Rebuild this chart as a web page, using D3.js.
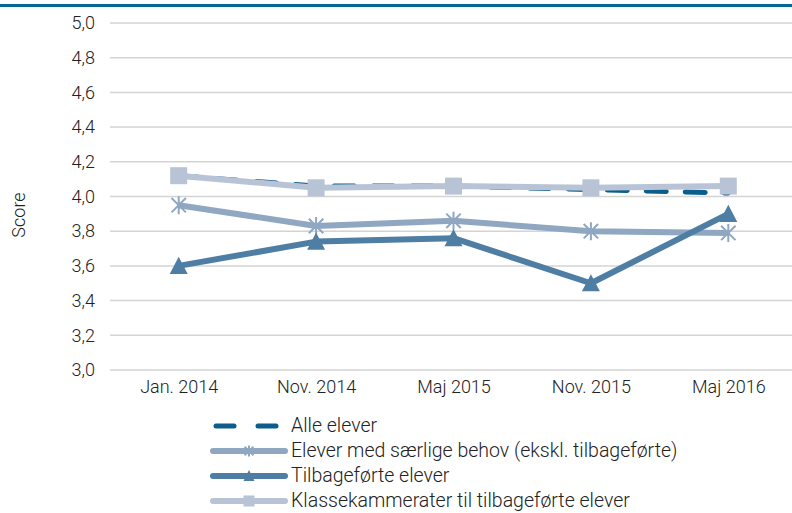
<!DOCTYPE html>
<html>
<head>
<meta charset="utf-8">
<script src="https://cdn.jsdelivr.net/npm/d3@7"></script>
<style>
  body { margin: 0; background: #fff; }
  text { font-family: Roboto, sans-serif; font-weight: 300; fill: #222; }
</style>
</head>
<body>
<div id="chart"></div>
<script>
const periods = ["Jan. 2014", "Nov. 2014", "Maj 2015", "Nov. 2015", "Maj 2016"];
const alleElever = [4.12, 4.06, 4.06, 4.04, 4.02];
const saerligeBehov = [3.95, 3.83, 3.86, 3.80, 3.79];
const tilbageforte = [3.60, 3.74, 3.76, 3.50, 3.90];
const klassekammerater = [4.12, 4.05, 4.06, 4.05, 4.06];
const yTicks = [3.0, 3.2, 3.4, 3.6, 3.8, 4.0, 4.2, 4.4, 4.6, 4.8, 5.0];

const series = [
  {name: "Alle elever", values: alleElever, color: "#0b5d8c", width: 5, dash: "20 19", marker: "none"},
  {name: "Elever med særlige behov (ekskl. tilbageførte)", values: saerligeBehov, color: "#8fa7c0", width: 6, marker: "asterisk"},
  {name: "Tilbageførte elever", values: tilbageforte, color: "#4f7ea4", width: 6, marker: "triangle"},
  {name: "Klassekammerater til tilbageførte elever", values: klassekammerater, color: "#b8c4d6", width: 6, marker: "square"}
];

const W = 792, H = 513;
const svg = d3.select("#chart").append("svg").attr("width", W).attr("height", H);

// top rule
svg.append("rect").attr("x", 0).attr("y", 4).attr("width", W).attr("height", 3).attr("fill", "#0a6693");

const x = d3.scalePoint().domain(periods).range([110, 797]).padding(0.5);
const y = d3.scaleLinear().domain([3, 5]).range([370, 23]);

// gridlines
svg.append("g")
  .selectAll("line")
  .data(yTicks)
  .join("line")
  .attr("x1", 110).attr("x2", W)
  .attr("y1", d => y(d)).attr("y2", d => y(d))
  .attr("stroke", "#d4d4d4").attr("stroke-width", 1.5);

// y axis labels
const yAxis = svg.append("g")
  .attr("transform", "translate(101,0)")
  .call(d3.axisLeft(y).tickValues(yTicks).tickSize(0).tickPadding(6)
    .tickFormat(d => d3.format(".1f")(d).replace(".", ",")));
yAxis.select(".domain").remove();
yAxis.selectAll("text").style("font-size", "18px").style("font-family", "Roboto, sans-serif").attr("fill", "#222");

// x axis labels
const xAxis = svg.append("g")
  .attr("transform", "translate(0,370)")
  .call(d3.axisBottom(x).tickSize(0).tickPadding(10));
xAxis.select(".domain").remove();
xAxis.selectAll("text").style("font-size", "18px").style("font-family", "Roboto, sans-serif").attr("fill", "#222");

svg.append("text")
  .attr("transform", "translate(25,215) rotate(-90)")
  .attr("text-anchor", "middle")
  .style("font-size", "18px")
  .text("Score");

function drawMarker(g, type, cx, cy, color, s) {
  if (type === "square") {
    g.append("rect").attr("x", cx - s / 2).attr("y", cy - s / 2).attr("width", s).attr("height", s).attr("fill", color);
  } else if (type === "triangle") {
    const h = s * 0.9;
    g.append("path")
      .attr("d", `M${cx},${cy - h / 2 - 1}L${cx + s / 2},${cy + h / 2}L${cx - s / 2},${cy + h / 2}Z`)
      .attr("fill", color);
  } else if (type === "asterisk") {
    const r = s / 2;
    const d = r * 0.8;
    g.append("path")
      .attr("d", `M${cx},${cy - r}V${cy + r}M${cx - d},${cy - d}L${cx + d},${cy + d}M${cx - d},${cy + d}L${cx + d},${cy - d}`)
      .attr("stroke", color).attr("stroke-width", 2).attr("fill", "none");
  }
}

const line = d3.line().x((d, i) => x(periods[i])).y(d => y(d));

const sizes = {square: 17, triangle: 18, asterisk: 18};
series.forEach(s => {
  const g = svg.append("g");
  g.append("path")
    .datum(s.values)
    .attr("d", line)
    .attr("fill", "none")
    .attr("stroke", s.color)
    .attr("stroke-width", s.width)
    .attr("stroke-linecap", s.dash ? "round" : "butt")
    .attr("stroke-linejoin", "round")
    .attr("stroke-dasharray", s.dash || null);
  if (s.marker !== "none") {
    s.values.forEach((v, i) => drawMarker(g, s.marker, x(periods[i]), y(v), s.color, sizes[s.marker]));
  }
});

// legend
const legend = svg.append("g");
series.forEach((s, i) => {
  const ly = 426 + i * 25;
  const g = legend.append("g");
  if (s.dash) {
    g.append("line").attr("x1", 216).attr("x2", 234).attr("y1", ly).attr("y2", ly)
      .attr("stroke", s.color).attr("stroke-width", 5).attr("stroke-linecap", "round");
    g.append("line").attr("x1", 258).attr("x2", 276).attr("y1", ly).attr("y2", ly)
      .attr("stroke", s.color).attr("stroke-width", 5).attr("stroke-linecap", "round");
  } else {
    g.append("line").attr("x1", 213).attr("x2", 285).attr("y1", ly).attr("y2", ly)
      .attr("stroke", s.color).attr("stroke-width", s.width).attr("stroke-linecap", "round");
    drawMarker(g, s.marker, 249, ly, s.color, 11);
  }
  g.append("text")
    .attr("x", 291).attr("y", ly).attr("dy", "0.33em")
    .style("font-size", "19.5px")
    .text(s.name);
});
</script>
</body>
</html>
